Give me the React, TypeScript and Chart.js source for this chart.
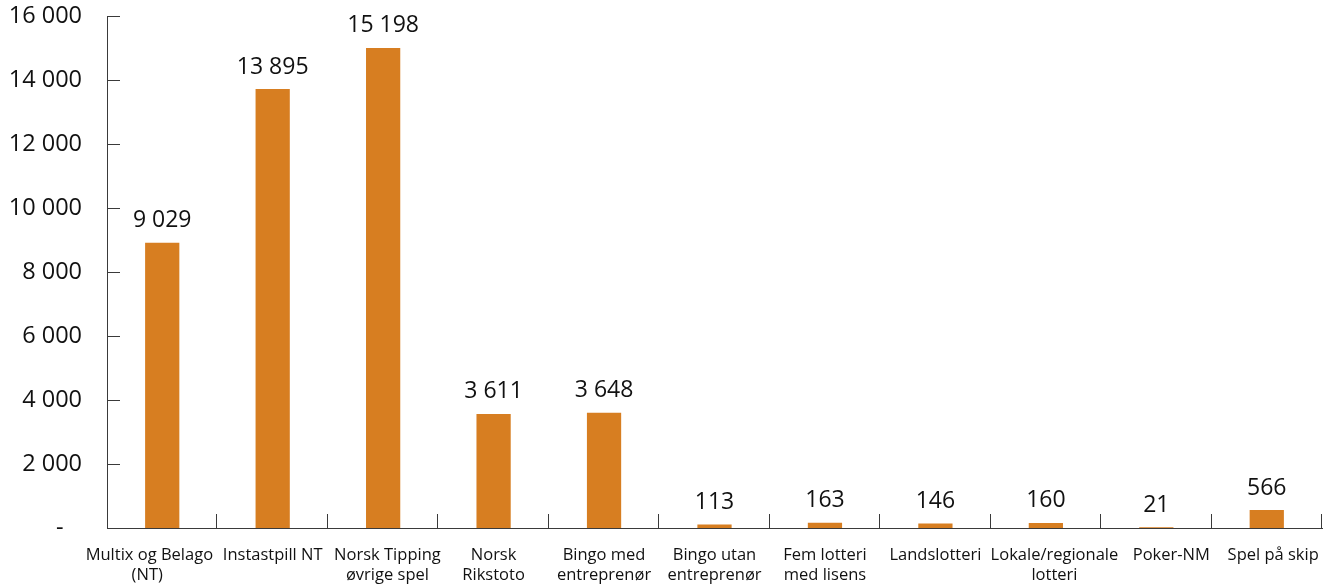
import React, { useEffect, useRef } from "react";
import { Chart, registerables } from "chart.js";

Chart.register(...registerables);

const categories: (string | string[])[] = [
  ["Multix og Belago      ", "(NT)       "],
  "Instastpill NT",
  ["  Norsk Tipping", "  øvrige spel"],
  ["Norsk", "Rikstoto"],
  ["Bingo med", "entreprenør"],
  ["Bingo utan", "entreprenør"],
  ["Fem lotteri", "med lisens"],
  "Landslotteri",
  ["    Lokale/regionale", "    lotteri"],
  "       Poker-NM",
  "   Spel på skip",
];

const values: number[] = [9029, 13895, 15198, 3611, 3648, 113, 163, 146, 160, 21, 566];

const yTicks: number[] = [0, 2000, 4000, 6000, 8000, 10000, 12000, 14000, 16000];

const BAR_COLOR = "#D77E21";
const AXIS_COLOR = "#3a3a3a";
const FONT = "'Open Sans', 'Noto Sans', sans-serif";

const fmt = (v: number) => v.toString().replace(/\B(?=(\d{3})+(?!\d))/g, " ");

const decorPlugin = {
  id: "decor",
  afterDatasetsDraw(chart: any) {
    const ctx = chart.ctx;
    const { left, right, bottom } = chart.chartArea;
    const xs = chart.scales.x;
    const ys = chart.scales.y;
    ctx.save();
    ctx.strokeStyle = AXIS_COLOR;
    ctx.lineWidth = 1;
    // y ticks drawn inward
    yTicks.forEach((t) => {
      if (t === 0) return;
      const y = Math.round(ys.getPixelForValue(t)) + 0.5;
      ctx.beginPath();
      ctx.moveTo(left, y);
      ctx.lineTo(left + 13, y);
      ctx.stroke();
    });
    // category separators drawn inward
    const n = categories.length;
    const step = xs.getPixelForValue(1) - xs.getPixelForValue(0);
    for (let i = 1; i <= n; i++) {
      let x = i === n ? right : xs.getPixelForValue(i - 1) + step / 2;
      x = Math.round(x) - 0.5;
      ctx.beginPath();
      ctx.moveTo(x, bottom);
      ctx.lineTo(x, bottom - 14);
      ctx.stroke();
    }
    // data labels
    const meta = chart.getDatasetMeta(0);
    ctx.fillStyle = "#111";
    ctx.font = `23px ${FONT}`;
    ctx.textAlign = "center";
    ctx.textBaseline = "alphabetic";
    meta.data.forEach((bar: any, i: number) => {
      ctx.fillText(fmt(values[i]), bar.x, bar.y - 15.5);
    });
    ctx.restore();
  },
};

export default function App() {
  const ref = useRef<HTMLCanvasElement>(null);
  useEffect(() => {
    if (!ref.current) return;
    const chart = new Chart(ref.current, {
      type: "bar",
      data: {
        labels: categories,
        datasets: [
          {
            data: values,
            yAxisID: "yBar",
            backgroundColor: BAR_COLOR,
            borderWidth: 0,
            barPercentage: 0.31,
            categoryPercentage: 1,
          },
        ],
      },
      options: {
        responsive: false,
        animation: false,
        devicePixelRatio: 1,
        layout: { padding: { top: 16, right: 11, left: 0, bottom: 0 } },
        plugins: {
          legend: { display: false },
          tooltip: { enabled: false },
        },
        scales: {
          x: {
            grid: { display: true, drawOnChartArea: false, drawTicks: false },
            border: { display: true, color: AXIS_COLOR, width: 1 },
            ticks: {
              color: "#111",
              font: { family: FONT, size: 16.5, lineHeight: 1.18 },
              padding: 18,
              maxRotation: 0,
              minRotation: 0,
              autoSkip: false,
            },
            afterFit: (scale: any) => {
              scale.height = 56;
              scale.paddingLeft = 0;
              scale.paddingRight = 0;
            },
          },
          y: {
            min: 0,
            max: 16000,
            grid: { display: true, drawOnChartArea: false, drawTicks: false },
            border: { display: true, color: AXIS_COLOR, width: 1 },
            ticks: {
              stepSize: 2000,
              color: "#111",
              font: { family: FONT, size: 23.5 },
              padding: 25,
              callback: (v: any) => (Number(v) === 0 ? "-   " : fmt(Number(v))),
            },
            afterFit: (scale: any) => {
              scale.width = 107;
              scale.paddingTop = 0;
              scale.paddingBottom = 0;
            },
          },
          yBar: {
            display: false,
            min: 0,
            max: 16210,
          },
        },
      },
      plugins: [decorPlugin],
    });
    return () => chart.destroy();
  }, []);
  return (
    <div style={{ position: "absolute", left: 0, top: 0, width: 1333, height: 584, background: "#fff" }}>
      <canvas ref={ref} width={1333} height={584} style={{ width: 1333, height: 584, display: "block" }} />
    </div>
  );
}
